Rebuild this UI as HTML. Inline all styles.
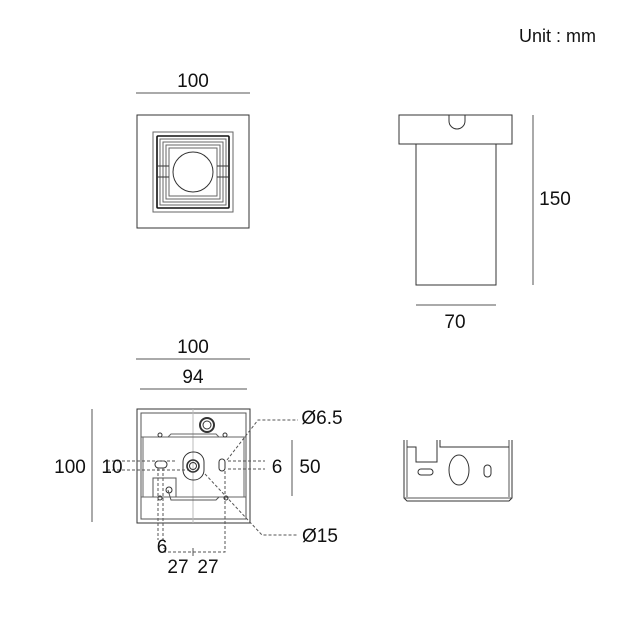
<!DOCTYPE html>
<html><head><style>
html,body{margin:0;padding:0;background:#fff;}
svg{display:block;}
text{font-family:"Liberation Sans",sans-serif;fill:#111;}
</style></head><body>
<svg width="620" height="620" viewBox="0 0 620 620" xmlns="http://www.w3.org/2000/svg">
<g fill="none" stroke="#333" stroke-width="1">
<text x="596" y="42" font-size="18" text-anchor="end" stroke="none">Unit : mm</text>

<!-- top view -->
<line x1="136" y1="93" x2="250" y2="93" stroke="#555"/>
<text x="193" y="87" font-size="19" text-anchor="middle" stroke="none">100</text>
<rect x="137" y="115" width="112" height="113"/>
<rect x="153" y="132" width="80" height="80" stroke="#666"/>
<rect x="157" y="136" width="72" height="72" stroke="#111" stroke-width="1.6" rx="1"/>
<rect x="160" y="139" width="66" height="66" stroke="#666"/>
<rect x="163" y="142" width="60" height="60" stroke="#666"/>
<rect x="166" y="145" width="54" height="54" stroke="#666"/>
<rect x="169" y="148" width="48" height="48" stroke="#666"/>
<circle cx="193" cy="172" r="20"/>
<line x1="157" y1="166" x2="169" y2="166"/><line x1="157" y1="177" x2="169" y2="177"/>
<line x1="217" y1="166" x2="229" y2="166"/><line x1="217" y1="177" x2="229" y2="177"/>

<!-- side view -->
<rect x="399" y="115" width="113" height="29"/>
<path d="M449 115 v6 a8 8 0 0 0 16 0 v-6"/>
<rect x="416" y="144" width="80" height="141"/>
<line x1="533" y1="115" x2="533" y2="285" stroke="#555"/>
<text x="555" y="205" font-size="19" text-anchor="middle" stroke="none">150</text>
<line x1="416" y1="305" x2="496" y2="305" stroke="#555"/>
<text x="455" y="328" font-size="19" text-anchor="middle" stroke="none">70</text>

<!-- bottom view -->
<line x1="136" y1="359" x2="250" y2="359" stroke="#555"/>
<text x="193" y="353" font-size="19" text-anchor="middle" stroke="none">100</text>
<line x1="140" y1="389" x2="247" y2="389" stroke="#555"/>
<text x="193" y="383" font-size="19" text-anchor="middle" stroke="none">94</text>
<line x1="92" y1="409" x2="92" y2="522" stroke="#555"/>
<text x="70" y="473" font-size="19" text-anchor="middle" stroke="none">100</text>
<line x1="292" y1="440" x2="292" y2="496" stroke="#555"/>
<text x="310" y="473" font-size="19" text-anchor="middle" stroke="none">50</text>

<rect x="137" y="409" width="113" height="114"/>
<rect x="141" y="413" width="105" height="106" stroke="#555"/>
<line x1="193" y1="409" x2="193" y2="523" stroke="#bbb"/>
<path d="M141 437 H246 M141 497 H246 M143 437 V497 M244 437 V497" stroke="#666"/>
<circle cx="207" cy="425" r="7" stroke-width="2"/><circle cx="207" cy="425" r="4"/>
<circle cx="160" cy="435" r="2"/><circle cx="225" cy="435" r="2"/>
<circle cx="160" cy="498" r="2"/><circle cx="226" cy="498" r="2"/>
<path d="M168 437 l3 -3 H216 l3 3" stroke="#666"/>
<rect x="183" y="452" width="21" height="28" rx="10"/>
<circle cx="193" cy="466" r="6" stroke-width="1.6"/><circle cx="193" cy="466" r="3.5"/>
<rect x="155" y="461" width="12" height="7" rx="3.5"/>
<rect x="219" y="459" width="6" height="12" rx="3"/>
<path d="M153 497 V478 H176 V497" stroke="#555"/>
<circle cx="169" cy="490" r="3"/>
<path d="M168 490 l3 10 H216 l3 -3" stroke="#555"/>
<g stroke-dasharray="3,2" stroke="#555">
<path d="M107 461 H177 M107 470 H188"/>
<path d="M228 461 H265 M228 469 H265"/>
<path d="M158 468 V540 M163 468 V540"/>
<path d="M225 471 V552 H164 V548"/>
<path d="M227 460 L258 420 H298"/>
<path d="M205 474 L262 535 H298"/>
</g>
<line x1="193" y1="548" x2="193" y2="556" stroke="#555"/>
<text x="112" y="473" font-size="19" text-anchor="middle" stroke="none">10</text>
<text x="277" y="473" font-size="19" text-anchor="middle" stroke="none">6</text>
<text x="322" y="424" font-size="19" text-anchor="middle" stroke="none">Ø6.5</text>
<text x="320" y="542" font-size="19" text-anchor="middle" stroke="none">Ø15</text>
<text x="162" y="553" font-size="19" text-anchor="middle" stroke="none">6</text>
<text x="178" y="573" font-size="19" text-anchor="middle" stroke="none">27</text>
<text x="208" y="573" font-size="19" text-anchor="middle" stroke="none">27</text>

<!-- bracket -->
<path d="M404 440 V498 l3 3 H509 l3 -3 V440" />
<path d="M407 440 V497 M509 440 V497" stroke="#555"/>
<path d="M407 447 H416 V462 H437 V440 M440 440 V447 H509" />
<line x1="404" y1="498" x2="512" y2="498" stroke="#555"/>
<rect x="418" y="469" width="15" height="6" rx="3"/>
<ellipse cx="459" cy="470" rx="10" ry="15"/>
<rect x="484" y="465" width="7" height="12" rx="3.5"/>
</g>
</svg>
</body></html>
